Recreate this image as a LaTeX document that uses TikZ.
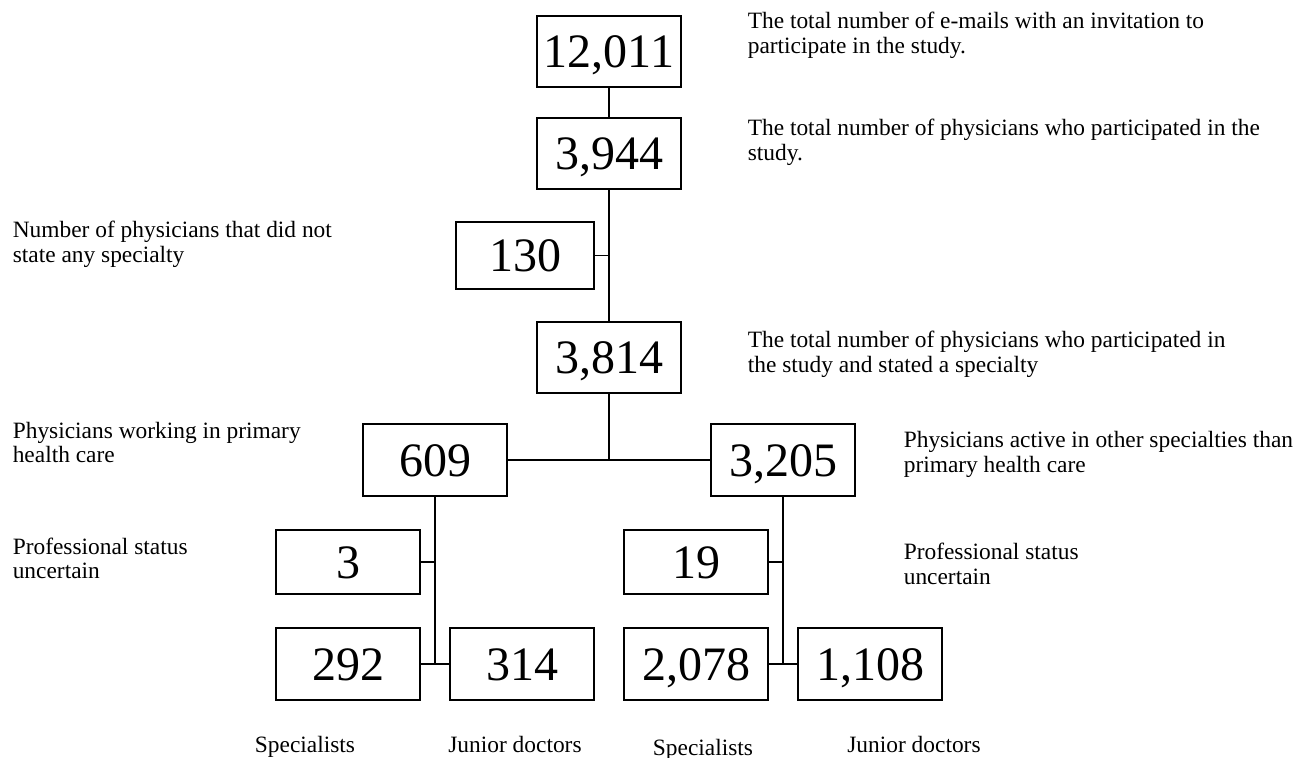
\documentclass[tikz,border=0pt]{standalone}
\usepackage{fontspec}
\setmainfont{Liberation Serif}
\begin{document}
\begin{tikzpicture}[x=0.5pt, y=-0.5pt, line width=0.8pt,
  numbox/.style={draw, inner sep=0pt, minimum width=72pt, minimum height=35.5pt, text height=16.3pt, text depth=0pt, font=\fontsize{24}{28}\selectfont},
  note/.style={anchor=west, align=left, inner sep=0pt, font=\fontsize{11.7}{12.3}\selectfont},
  group/.style={inner sep=0pt, text height=8pt, text depth=2.5pt, font=\fontsize{11.7}{12.3}\selectfont}]
\useasboundingbox (0,0) rectangle (1297,758);
% main column
\node[numbox] (n12011) at (609,51.5) {12,011};
\node[numbox] (n3944) at (609,153.5) {3,944};
\node[numbox, minimum width=69pt, minimum height=33.5pt] (n130) at (525,255.5) {130};
\node[numbox] (n3814) at (609,357.5) {3,814};
\node[numbox, minimum height=36pt] (n609) at (435,460) {609};
\node[numbox, minimum height=36pt] (n3205) at (783,460) {3,205};
% uncertain status
\node[numbox, minimum height=32pt] (n3) at (348,562) {3};
\node[numbox, minimum height=32pt] (n19) at (696,562) {19};
% specialists and junior doctors
\node[numbox, minimum height=36pt] (n292) at (348,664) {292};
\node[numbox, minimum height=36pt] (n314) at (522,664) {314};
\node[numbox, minimum height=36pt] (n2078) at (696,664) {2,078};
\node[numbox, minimum height=36pt] (n1108) at (870,664) {1,108};
% connectors
\draw (n12011.south)--(n3944.north);
\draw (n3944.south)--(n3814.north);
\draw (n130.east)--(n130.east -| n3944.south);
\draw (n3814.south)--(n3814.south |- n609.east);
\draw (n609.east)--(n3205.west);
\draw (n609.south)--(n609.south |- n292.east);
\draw (n3.east)--(n3.east -| n609.south);
\draw (n292.east)--(n314.west);
\draw (n3205.south)--(n3205.south |- n2078.east);
\draw (n19.east)--(n19.east -| n3205.south);
\draw (n2078.east)--(n1108.west);
% notes
\node[note] (t12011) at (747,35.5) {The total number of e-mails with an invitation to\\participate in the study.};
\node[note] (t3944) at (747,142.5) {The total number of physicians who participated in the\\study.};
\node[note] (t130) at (12,244.5) {Number of physicians that did not\\state any specialty};
\node[note] (t3814) at (747,354) {The total number of physicians who participated in\\the study and stated a specialty};
\node[note] (t609) at (12,442.5) {Physicians working in primary\\health care};
\node[note] (t3205) at (903,454.5) {Physicians active in other specialties than\\primary health care};
\node[note] (t3) at (12,558.5) {Professional status\\uncertain};
\node[note] (t19) at (903,564) {Professional status\\uncertain};
\foreach \x/\y/\t [count=\i] in {305/747/Specialists, 515/747/Junior doctors, 703/750/Specialists, 914/747/Junior doctors}
{
   \node[group] (g\i) at (\x,\y) {\t};
}
\end{tikzpicture}
\end{document}
